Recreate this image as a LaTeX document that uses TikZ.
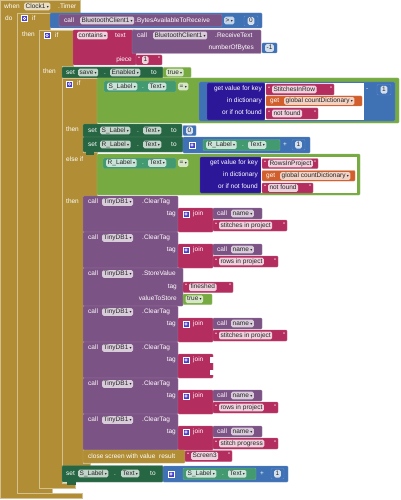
\documentclass[tikz,border=0pt]{standalone}
\usepackage{fontspec}
\setmainfont{Liberation Sans}
\newfontfamily\symf{DejaVu Sans}
\definecolor{ctl}{HTML}{B18E35}
\definecolor{prc}{HTML}{7C5385}
\definecolor{txt}{HTML}{B32D5E}
\definecolor{mth}{HTML}{3F71B5}
\definecolor{lgc}{HTML}{77AB41}
\definecolor{dic}{HTML}{2D1799}
\definecolor{vrb}{HTML}{D05F2D}
\definecolor{cset}{HTML}{266643}
\definecolor{cget}{HTML}{439970}
\definecolor{gearc}{HTML}{4A3FD0}
\newcounter{bkn}
\newcommand{\bkRect}[5]{\filldraw[fill=#1, draw=#1!78!white, line width=0.4pt, rounded corners=1pt] (#2,#3) rectangle (#4,#5);}
\newcommand{\bkLbl}[3]{\stepcounter{bkn}\node[lbl, anchor=west] (n\arabic{bkn}) at (#1,#2) {#3};}
\newcommand{\bkLblE}[3]{\stepcounter{bkn}\node[lbl, anchor=east] (n\arabic{bkn}) at (#1,#2) {#3};}
\newcommand{\bkDD}[4]{\stepcounter{bkn}\node[fld, anchor=west, fill=#3] (n\arabic{bkn}) at (#1,#2) {#4\hspace{1.3pt}{\symf\fontsize{4}{4}\selectfont ▾}};}
\newcommand{\bkStr}[5]{%
  \bkRect{txt}{#1}{#2}{#3}{#4}
  \node[lbl] at ({#1+3.2},{(#2+#4)/2}) {“};
  \stepcounter{bkn}\node[fld, anchor=west, fill=txt!22!white] (n\arabic{bkn}) at ({#1+5.8},{(#2+#4)/2}) {#5};
  \node[lbl] at ({#3-3},{(#2+#4)/2}) {”};}
\newcommand{\bkNum}[5]{%
  \bkRect{mth}{#1}{#2}{#3}{#4}
  \stepcounter{bkn}\node[fld, fill=mth!22!white] (n\arabic{bkn}) at ({(#1+#3)/2},{(#2+#4)/2}) {#5};}
\newcommand{\bkGear}[2]{%
  \filldraw[fill=gearc, draw=white, line width=0.5pt] ({#1-2.8},{#2-2.8}) rectangle ({#1+2.8},{#2+2.8});
  \draw[white, line width=0.6pt] (#1,#2) circle (1.2pt);}
\newcommand{\bkJoin}[1]{%
  \bkRect{txt}{178}{#1}{213}{#1+24}
  \bkGear{186}{#1+6}
  \bkLbl{193}{#1+6}{join}}
\newcommand{\bkCThead}[1]{%
  \bkRect{prc}{83}{#1}{178}{#1+36}
  \bkLbl{88}{#1+6}{call}
  \bkDD{102}{#1+6}{prc!30!white}{TinyDB1}
  \bkLbl{142}{#1+6}{.ClearTag}
  \bkLblE{176}{#1+18}{tag}}
\newcommand{\bkCT}[3]{%
  \bkCThead{#1}
  \bkJoin{#1+12}
  \bkRect{prc}{213}{#1+12}{262}{#1+23}
  \bkLbl{217}{#1+17.5}{call}
  \bkDD{231}{#1+17.5}{prc!30!white}{name}
  \bkStr{213}{#1+24}{#3}{#1+35}{#2}}
\begin{document}
\begin{tikzpicture}[x=1pt,y=-1pt,
  every node/.style={font=\fontsize{6.5}{7}\selectfont},
  lbl/.style={text=white, inner sep=0pt, text height=4.7pt, text depth=1.3pt},
  fld/.style={text=black!85, inner xsep=1.5pt, inner ysep=0.8pt, text height=4.7pt, text depth=1.3pt, rounded corners=1.5pt},
  cblk/.style={fill=ctl, draw=ctl!55!white, line width=0.5pt}]
\useasboundingbox (0,0) rectangle (400,500);
\fill[white] (0,0) rectangle (400,500);

% ---- when Clock1.Timer
\filldraw[cblk] (0,0) -- (80,0) -- (80,13) -- (17,13) -- (17,493) -- (82,493) -- (82,498) -- (0,498) -- cycle;
\bkLbl{4}{6.5}{when}
\bkDD{24}{6.5}{ctl!30!white}{Clock1}
\bkLbl{58}{6.5}{.Timer}
\bkLbl{5}{19}{do}

% ---- if #1
\filldraw[cblk] (17,13) -- (50,13) -- (50,30) -- (39,30) -- (39,488) -- (52,488) -- (52,493) -- (17,493) -- cycle;
\bkGear{24.5}{18.5}
\bkLbl{32}{18.5}{if}
\bkLbl{22}{35}{then}
\bkRect{mth}{50}{13}{262}{28}
\bkRect{prc}{59}{14.5}{222}{26.5}
\bkLbl{64}{20.5}{call}
\bkDD{80}{20.5}{prc!30!white}{BluetoothClient1}
\bkLbl{135}{20.5}{.BytesAvailableToReceive}
\bkDD{224}{20.5}{mth!30!white}{>}
\bkNum{244}{16}{258}{26}{0}

% ---- if #2
\filldraw[cblk] (39,30) -- (73,30) -- (73,66) -- (62,66) -- (62,483) -- (75,483) -- (75,488) -- (39,488) -- cycle;
\bkGear{47}{35.5}
\bkLbl{55}{35.5}{if}
\bkLbl{43}{72}{then}
\bkRect{txt}{73}{30}{136}{65}
\bkDD{77}{35.5}{txt!22!white}{contains}
\bkLbl{115}{35.5}{text}
\bkRect{prc}{132}{30}{261}{53.5}
\bkLbl{137}{35.5}{call}
\bkDD{153}{35.5}{prc!30!white}{BluetoothClient1}
\bkLbl{215}{35.5}{.ReceiveText}
\bkLblE{254}{48}{numberOfBytes}
\bkNum{262}{43}{277}{53}{-1}
\bkLblE{132}{60}{piece}
\bkStr{136}{55}{162}{65}{1}

% set save.Enabled to true
\bkRect{cset}{62}{67}{163}{78}
\bkLbl{66}{72.5}{set}
\bkDD{78}{72.5}{cset!28!white}{save}
\bkLbl{104}{72.5}{.}
\bkDD{110}{72.5}{cset!28!white}{Enabled}
\bkLbl{151}{72.5}{to}
\bkRect{lgc}{163}{67.5}{191}{77.5}
\bkDD{166}{72.5}{lgc!30!white}{true}

% ---- if #3
\filldraw[cblk] (62,78) -- (97,78) -- (97,124) -- (83,124) -- (83,152) -- (97,152) -- (97,196) -- (83,196) -- (83,463) -- (90,463) -- (90,466) -- (62,466) -- cycle;
\bkGear{69.5}{84}
\bkLbl{77}{84}{if}
\bkLbl{66}{130}{then}
\bkLbl{66}{160}{else if}
\bkLbl{66}{202}{then}

% condition 1
\bkRect{lgc}{97}{78}{399}{123}
\bkRect{cget}{104}{81}{176}{92}
\bkDD{107}{86.5}{cget!28!white}{S\_Label}
\bkLbl{142}{86.5}{.}
\bkDD{148}{86.5}{cget!28!white}{Text}
\bkDD{178}{86.5}{lgc!30!white}{=}
\bkRect{mth}{199}{82}{395}{121}
\bkRect{dic}{207}{83}{265}{120}
\fill[white] (265,83) rectangle (364,120);
\bkLblE{262}{89}{get value for key}
\bkLblE{262}{101}{in dictionary}
\bkLblE{262}{113}{or if not found}
\bkStr{266}{84}{334}{95}{StitchesInRow}
\bkRect{vrb}{266}{96}{362}{106}
\bkLbl{270}{101}{get}
\bkDD{284}{101}{vrb!28!white}{global countDictionary}
\bkStr{266}{108}{318}{119}{not found}
\bkLbl{366}{89}{-}
\bkNum{377}{84.5}{391}{95}{1}

% then: set S_Label.Text to 0
\bkRect{cset}{83}{124}{182}{137}
\bkLbl{88}{130.5}{set}
\bkDD{100}{130.5}{cset!28!white}{S\_Label}
\bkLbl{137}{130.5}{.}
\bkDD{143}{130.5}{cset!28!white}{Text}
\bkLbl{171}{130.5}{to}
\bkNum{183}{125.5}{196}{135.5}{0}

% set R_Label.Text to R_Label.Text + 1
\bkRect{cset}{83}{137}{183}{152}
\bkLbl{88}{144.5}{set}
\bkDD{100}{144.5}{cset!28!white}{R\_Label}
\bkLbl{137}{144.5}{.}
\bkDD{143}{144.5}{cset!28!white}{Text}
\bkLbl{171}{144.5}{to}
\fill[cset] (86,151) rectangle (94,155);
\bkRect{mth}{183}{137}{310}{153}
\bkGear{192}{145}
\bkRect{cget}{203}{139.5}{280}{150.5}
\bkDD{206}{145}{cget!28!white}{R\_Label}
\bkLbl{242}{145}{.}
\bkDD{248}{145}{cget!28!white}{Text}
\bkLbl{283}{145}{+}
\bkNum{292}{139.5}{305}{150}{1}

% else if condition
\bkRect{lgc}{97}{154}{360}{195}
\bkRect{cget}{103}{158}{176}{168.5}
\bkDD{106}{163}{cget!28!white}{R\_Label}
\bkLbl{142}{163}{.}
\bkDD{148}{163}{cget!28!white}{Text}
\bkDD{178}{163}{lgc!30!white}{=}
\bkRect{dic}{200}{157}{261}{193}
\fill[white] (261,157) rectangle (357,193);
\bkLblE{258}{163}{get value for key}
\bkLblE{258}{175}{in dictionary}
\bkLblE{258}{187}{or if not found}
\bkStr{262}{158.5}{318}{168.5}{RowsInProject}
\bkRect{vrb}{262}{170.5}{355}{181}
\bkLbl{266}{176}{get}
\bkDD{280}{176}{vrb!28!white}{global countDictionary}
\bkStr{262}{183}{313}{193}{not found}

% then body
\bkCT{196}{stitches in project}{287}
\bkCT{232}{rows in project}{278}

% StoreValue
\bkRect{prc}{83}{268}{183}{306}
\bkLbl{88}{274}{call}
\bkDD{102}{274}{prc!30!white}{TinyDB1}
\bkLbl{142}{274}{.StoreValue}
\bkLblE{177}{287}{tag}
\bkLblE{177}{299}{valueToStore}
\bkStr{183}{282}{233}{292.5}{fineshed}
\bkRect{lgc}{183}{294}{212}{304.5}
\bkDD{185.5}{299.2}{lgc!30!white}{true}

\bkCT{306}{stitches in project}{287}

% ClearTag with empty join
\bkCThead{342}
\bkJoin{354}
\fill[white] (210,357) rectangle (214.5,362.5);
\fill[white] (210,369.5) rectangle (214.5,375);

\bkCT{378}{rows in project}{278}
\bkCT{414}{stitch progress}{278}

% close screen with value
\bkRect{ctl}{83}{450}{185}{463}
\bkLbl{88}{456.5}{close screen with value}
\bkLbl{159}{456.5}{result}
\bkStr{185}{450.5}{232}{461.5}{Screen3}

% final set S_Label.Text to S_Label.Text + 1
\bkRect{cset}{62}{465.5}{163}{482}
\fill[cset] (67,481) rectangle (76,485);
\bkLbl{66}{473.5}{set}
\bkDD{78}{473.5}{cset!28!white}{S\_Label}
\bkLbl{114}{473.5}{.}
\bkDD{121}{473.5}{cset!28!white}{Text}
\bkLbl{150}{473.5}{to}
\bkRect{mth}{163}{466}{288}{482}
\bkGear{171}{474}
\bkRect{cget}{183}{468}{256}{479.5}
\bkDD{186}{473.8}{cget!28!white}{S\_Label}
\bkLbl{222}{473.8}{.}
\bkDD{228}{473.8}{cget!28!white}{Text}
\bkLbl{260}{473.8}{+}
\bkNum{271}{468.5}{284}{479}{1}
\end{tikzpicture}
\end{document}
